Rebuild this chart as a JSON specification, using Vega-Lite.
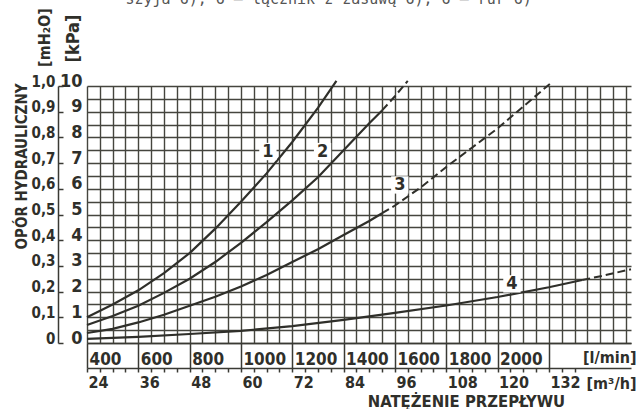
{
  "$schema": "https://vega.github.io/schema/vega-lite/v6.json",
  "autosize": {"type": "none"},
  "width": 544,
  "height": 257,
  "padding": {"left": 87, "top": 86, "right": 8, "bottom": 66},
  "background": "#ffffff",
  "config": {
    "view": {"stroke": null},
    "axis": {
      "labelFont": "DejaVu Sans Condensed, Liberation Sans Narrow, DejaVu Sans",
      "titleFont": "DejaVu Sans Condensed, Liberation Sans Narrow, DejaVu Sans",
      "labelColor": "#2f2f2a",
      "titleColor": "#2f2f2a",
      "labelFontWeight": "bold",
      "titleFontWeight": "bold",
      "labelOverlap": false,
      "labelFlush": false,
      "domainColor": "#3a3a34",
      "tickColor": "#3a3a34",
      "domainWidth": 1.5,
      "tickWidth": 1.5
    }
  },
  "datasets": {
    "curves": [
      {"curve": "1", "part": "solid", "q": 400, "kpa": 1.0},
      {"curve": "1", "part": "solid", "q": 500, "kpa": 1.5},
      {"curve": "1", "part": "solid", "q": 600, "kpa": 2.05},
      {"curve": "1", "part": "solid", "q": 700, "kpa": 2.72},
      {"curve": "1", "part": "solid", "q": 800, "kpa": 3.5},
      {"curve": "1", "part": "solid", "q": 900, "kpa": 4.45},
      {"curve": "1", "part": "solid", "q": 1000, "kpa": 5.5},
      {"curve": "1", "part": "solid", "q": 1100, "kpa": 6.6},
      {"curve": "1", "part": "solid", "q": 1200, "kpa": 7.82},
      {"curve": "1", "part": "solid", "q": 1300, "kpa": 9.15},
      {"curve": "1", "part": "solid", "q": 1372, "kpa": 10.2},
      {"curve": "2", "part": "solid", "q": 400, "kpa": 0.7},
      {"curve": "2", "part": "solid", "q": 500, "kpa": 1.05},
      {"curve": "2", "part": "solid", "q": 600, "kpa": 1.45},
      {"curve": "2", "part": "solid", "q": 700, "kpa": 1.95},
      {"curve": "2", "part": "solid", "q": 800, "kpa": 2.5},
      {"curve": "2", "part": "solid", "q": 900, "kpa": 3.15},
      {"curve": "2", "part": "solid", "q": 1000, "kpa": 3.9},
      {"curve": "2", "part": "solid", "q": 1100, "kpa": 4.7},
      {"curve": "2", "part": "solid", "q": 1200, "kpa": 5.55},
      {"curve": "2", "part": "solid", "q": 1300, "kpa": 6.45},
      {"curve": "2", "part": "solid", "q": 1400, "kpa": 7.5},
      {"curve": "2", "part": "solid", "q": 1500, "kpa": 8.55},
      {"curve": "2", "part": "solid", "q": 1550, "kpa": 9.05},
      {"curve": "2", "part": "dashed", "q": 1550, "kpa": 9.05},
      {"curve": "2", "part": "dashed", "q": 1600, "kpa": 9.6},
      {"curve": "2", "part": "dashed", "q": 1650, "kpa": 10.2},
      {"curve": "3", "part": "solid", "q": 400, "kpa": 0.39},
      {"curve": "3", "part": "solid", "q": 500, "kpa": 0.55},
      {"curve": "3", "part": "solid", "q": 600, "kpa": 0.8},
      {"curve": "3", "part": "solid", "q": 700, "kpa": 1.1},
      {"curve": "3", "part": "solid", "q": 800, "kpa": 1.45},
      {"curve": "3", "part": "solid", "q": 900, "kpa": 1.8},
      {"curve": "3", "part": "solid", "q": 1000, "kpa": 2.2},
      {"curve": "3", "part": "solid", "q": 1100, "kpa": 2.65},
      {"curve": "3", "part": "solid", "q": 1200, "kpa": 3.15},
      {"curve": "3", "part": "solid", "q": 1300, "kpa": 3.65},
      {"curve": "3", "part": "solid", "q": 1400, "kpa": 4.2},
      {"curve": "3", "part": "solid", "q": 1500, "kpa": 4.75},
      {"curve": "3", "part": "solid", "q": 1550, "kpa": 5.05},
      {"curve": "3", "part": "dashed", "q": 1550, "kpa": 5.05},
      {"curve": "3", "part": "dashed", "q": 1600, "kpa": 5.35},
      {"curve": "3", "part": "dashed", "q": 1700, "kpa": 6.05},
      {"curve": "3", "part": "dashed", "q": 1800, "kpa": 6.85},
      {"curve": "3", "part": "dashed", "q": 1900, "kpa": 7.6},
      {"curve": "3", "part": "dashed", "q": 2000, "kpa": 8.35},
      {"curve": "3", "part": "dashed", "q": 2100, "kpa": 9.2},
      {"curve": "3", "part": "dashed", "q": 2200, "kpa": 10.05},
      {"curve": "3", "part": "dashed", "q": 2215, "kpa": 10.17},
      {"curve": "4", "part": "solid", "q": 400, "kpa": 0.16},
      {"curve": "4", "part": "solid", "q": 600, "kpa": 0.24},
      {"curve": "4", "part": "solid", "q": 800, "kpa": 0.35},
      {"curve": "4", "part": "solid", "q": 1000, "kpa": 0.47},
      {"curve": "4", "part": "solid", "q": 1200, "kpa": 0.66},
      {"curve": "4", "part": "solid", "q": 1400, "kpa": 0.9},
      {"curve": "4", "part": "solid", "q": 1600, "kpa": 1.17},
      {"curve": "4", "part": "solid", "q": 1800, "kpa": 1.46},
      {"curve": "4", "part": "solid", "q": 2000, "kpa": 1.79},
      {"curve": "4", "part": "solid", "q": 2200, "kpa": 2.17},
      {"curve": "4", "part": "solid", "q": 2330, "kpa": 2.45},
      {"curve": "4", "part": "dashed", "q": 2330, "kpa": 2.45},
      {"curve": "4", "part": "dashed", "q": 2420, "kpa": 2.64},
      {"curve": "4", "part": "dashed", "q": 2520, "kpa": 2.87}
    ],
    "labels": [
      {"curve": "1", "q": 1105, "kpa": 7.45},
      {"curve": "2", "q": 1318, "kpa": 7.45},
      {"curve": "3", "q": 1619, "kpa": 6.15},
      {"curve": "4", "q": 2056, "kpa": 2.3}
    ]
  },
  "layer": [
    {
      "data": {"name": "curves"},
      "transform": [{"filter": "datum.part === 'solid'"}],
      "mark": {"type": "line", "color": "#2f2f2a", "strokeWidth": 2.2},
      "encoding": {
        "x": {
          "field": "q", "type": "quantitative",
          "scale": {"domain": [400, 2520], "nice": false, "zero": false},
          "axis": {
            "orient": "bottom",
            "values": [400, 600, 800, 1000, 1200, 1400, 1600, 1800, 2000, 2200],
            "format": "d",
            "labelExpr": "datum.value == 2200 ? '' : datum.label",
            "tickSize": 25,
            "grid": false,
            "labelAlign": "left",
            "labelBaseline": "alphabetic",
            "labelPadding": -4,
            "labelOffset": 2,
            "labelFontSize": 17,
            "title": "[l/min]",
            "titleX": 549,
            "titleY": 19,
            "titleAlign": "right",
            "titleBaseline": "alphabetic",
            "titleFontSize": 16
          }
        },
        "y": {
          "field": "kpa", "type": "quantitative",
          "scale": {"domain": [0, 10], "nice": false, "zero": true},
          "axis": {
            "orient": "left",
            "values": [0, 0.5, 1, 1.5, 2, 2.5, 3, 3.5, 4, 4.5, 5, 5.5, 6, 6.5, 7, 7.5, 8, 8.5, 9, 9.5, 10],
            "labelExpr": "datum.value % 1 === 0 ? format(datum.value, 'd') : ''",
            "grid": true,
            "gridColor": "#45453e",
            "gridWidth": 1.4,
            "gridOpacity": 1,
            "ticks": false,
            "domain": false,
            "labelAlign": "right",
            "labelBaseline": "alphabetic",
            "labelPadding": 5,
            "labelFontSize": 18,
            "title": "[kPa]",
            "titleX": -14,
            "titleY": -48,
            "titleAngle": -90,
            "titleAlign": "center",
            "titleBaseline": "middle",
            "titleFontSize": 18
          }
        },
        "detail": {"field": "curve"}
      }
    },
    {
      "data": {"name": "curves"},
      "transform": [{"filter": "datum.part === 'dashed'"}],
      "mark": {"type": "line", "color": "#2f2f2a", "strokeWidth": 2, "strokeDash": [8, 4]},
      "encoding": {
        "x": {
          "field": "q", "type": "quantitative",
          "scale": {"domain": [400, 2520], "nice": false, "zero": false},
          "axis": {
            "orient": "bottom",
            "values": [400, 450, 500, 550, 600, 650, 700, 750, 800, 850, 900, 950, 1000, 1050, 1100, 1150, 1200, 1250, 1300, 1350, 1400, 1450, 1500, 1550, 1600, 1650, 1700, 1750, 1800, 1850, 1900, 1950, 2000, 2050, 2100, 2150, 2200, 2250, 2300, 2350, 2400, 2450, 2500],
            "grid": true,
            "gridColor": "#45453e",
            "gridWidth": 1.4,
            "gridOpacity": 1,
            "labels": false,
            "ticks": false,
            "domain": false,
            "title": null
          }
        },
        "y": {
          "field": "kpa", "type": "quantitative",
          "scale": {"domain": [0, 10], "nice": false},
          "axis": null
        },
        "detail": {"field": "curve"}
      }
    },
    {
      "data": {"name": "labels"},
      "mark": {"type": "square", "color": "#ffffff", "opacity": 1, "size": 300, "filled": true},
      "encoding": {
        "x": {
          "field": "q", "type": "quantitative",
          "scale": {"domain": [400, 2520], "nice": false, "zero": false},
          "axis": {
            "orient": "bottom",
            "labels": false, "ticks": false, "domain": false, "grid": false,
            "title": "NATĘŻENIE PRZEPŁYWU",
            "titleX": 379,
            "titleY": 63,
            "titleAlign": "center",
            "titleBaseline": "alphabetic",
            "titleFontSize": 16.5
          }
        },
        "y": {
          "field": "kpa", "type": "quantitative",
          "scale": {"domain": [0, 10], "nice": false},
          "axis": {
            "orient": "left",
            "labels": false, "ticks": false, "domain": false, "grid": false,
            "title": "OPÓR HYDRAULICZNY",
            "titleX": -66,
            "titleY": 80,
            "titleAngle": -90,
            "titleAlign": "center",
            "titleBaseline": "middle",
            "titleFontSize": 15
          }
        }
      }
    },
    {
      "data": {"name": "labels"},
      "mark": {"type": "text", "color": "#2f2f2a", "fontSize": 18, "fontWeight": "bold", "font": "DejaVu Sans Condensed, Liberation Sans Narrow, DejaVu Sans", "baseline": "middle", "align": "center"},
      "encoding": {
        "x": {
          "field": "q", "type": "quantitative",
          "scale": {"domain": [400, 2520], "nice": false, "zero": false},
          "axis": {
            "orient": "top",
            "labels": false, "ticks": false, "domain": false, "grid": false,
            "title": "szyja 6), 6 — łącznik z zasuwą 6), 6 — rur 6)",
            "titleX": 38,
            "titleY": -83,
            "titleAlign": "left",
            "titleBaseline": "alphabetic",
            "titleFont": "DejaVu Sans Mono",
            "titleFontWeight": "normal",
            "titleFontSize": 15,
            "titleColor": "#555555"
          }
        },
        "y": {
          "field": "kpa", "type": "quantitative",
          "scale": {"domain": [0, 10], "nice": false},
          "axis": null
        },
        "text": {"field": "curve"}
      }
    },
    {
      "mark": {"type": "rule", "color": "#3a3a34", "strokeWidth": 1.5},
      "encoding": {
        "x": {
          "datum": 17.22, "type": "quantitative",
          "scale": {"domain": [24, 151.2], "nice": false, "zero": false},
          "axis": {
            "orient": "bottom",
            "offset": 25,
            "values": [24, 27, 30, 33, 36, 39, 42, 45, 48, 51, 54, 57, 60, 63, 66, 69, 72, 75, 78, 81, 84, 87, 90, 93, 96, 99, 102, 105, 108, 111, 114, 117, 120, 123, 126, 129, 132, 135, 138],
            "labelExpr": "(datum.value % 12 === 0 && datum.value <= 132) ? format(datum.value, 'd') : ''",
            "tickSize": 4,
            "grid": false,
            "labelAlign": "left",
            "labelBaseline": "alphabetic",
            "labelPadding": 15,
            "labelOffset": 1,
            "labelFontSize": 16,
            "title": "[m³/h]",
            "titleX": 549,
            "titleY": 20,
            "titleAlign": "right",
            "titleBaseline": "alphabetic",
            "titleFontSize": 16
          }
        },
        "x2": {"datum": 24},
        "y": {
          "datum": 0, "type": "quantitative",
          "scale": {"domain": [0, 1], "nice": false},
          "axis": {
            "orient": "left",
            "offset": 29,
            "values": [0, 0.1, 0.2, 0.3, 0.4, 0.5, 0.6, 0.7, 0.8, 0.9, 1.0],
            "labelExpr": "datum.value === 0 ? '0' : replace(format(datum.value, '.1f'), '.', ',')",
            "tickSize": -5,
            "domain": true,
            "grid": false,
            "labelAlign": "right",
            "labelBaseline": "alphabetic",
            "labelPadding": 8,
            "labelFontSize": 15,
            "title": "[mH₂O]",
            "titleX": -14,
            "titleY": -49,
            "titleAngle": -90,
            "titleAlign": "center",
            "titleBaseline": "middle",
            "titleFontSize": 16
          }
        }
      }
    }
  ],
  "resolve": {
    "scale": {"x": "independent", "y": "independent"},
    "axis": {"x": "independent", "y": "independent"}
  }
}
